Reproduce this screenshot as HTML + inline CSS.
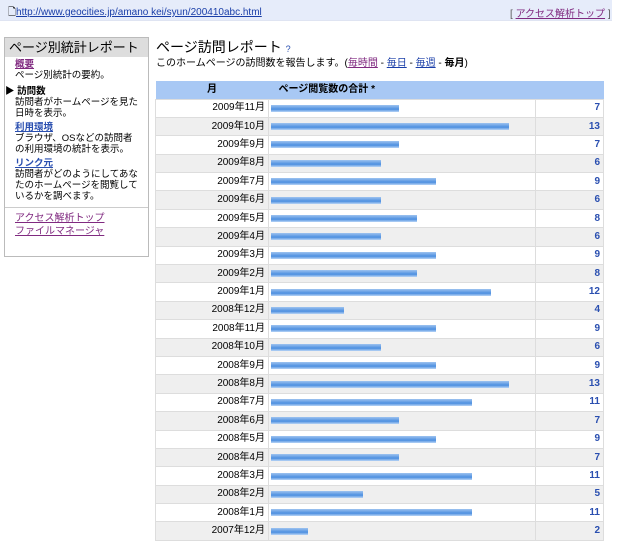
<!DOCTYPE html>
<html><head><meta charset="utf-8">
<style>
body{margin:0;width:626px;height:553px;background:#fff;font-family:"Liberation Sans","Noto Sans CJK JP",sans-serif;font-size:10px;color:#000;position:relative;overflow:hidden}
a{color:#1a3ea8}
.abs{position:absolute}
#topbar{left:0;top:0;width:612px;height:20px;background:#e6ecfa;border-bottom:1px solid #dfe4f2}
#side{left:4px;top:37px;width:143px;height:218px;border:1px solid #bbb;background:#fff}
#side .t{background:#ddd;font-size:13px;padding:1px 4px;height:17px;line-height:17px}
#side .it{padding:0 8px 0 10px;line-height:11px;font-size:9.5px}
#side a.h{font-weight:bold;color:#2a4fb0}
table{border-collapse:collapse;position:absolute;left:155px;top:81px;width:449px}
td,th{padding:0;font-size:10px;line-height:12px;height:18.4px;box-sizing:border-box;border:1px solid #ddd;vertical-align:middle}
th{background:#a8c8f4;height:18px;border:none;text-align:left}
tr.alt td{background:#efefef}
td.m{text-align:right;padding-right:3px;width:113px}
td.v{text-align:right;padding-right:3px;color:#2a4fb0;font-weight:bold;width:68px}
.bar{height:7px;background:linear-gradient(#9dc3f0,#4d8fe0 60%,#b8d4f6);margin-left:2px}
</style></head><body>
<div id="topbar" class="abs">
<span class="abs" style="left:8px;top:5px;font-size:10px">🗋<a href="#">http://www.geocities.jp/amano kei/syun/200410abc.html</a></span>
<span class="abs" style="left:510px;top:5px;color:#555">[ <a href="#" style="color:#802a80">アクセス解析トップ</a> ]</span>
</div>
<div id="side" class="abs">
<div class="t">ページ別統計レポート</div>
<div class="it" style="margin-top:2px"><a class="h" href="#" style="color:#802a80">概要</a><br>ページ別統計の要約。</div>
<div class="it" style="margin-top:5px;padding-left:0"><b>▶ 訪問数</b><div style="padding-left:10px">訪問者がホームページを見た日時を表示。</div></div>
<div class="it" style="margin-top:3px"><a class="h" href="#">利用環境</a><br>ブラウザ、OSなどの訪問者の利用環境の統計を表示。</div>
<div class="it" style="margin-top:3px"><a class="h" href="#">リンク元</a><br>訪問者がどのようにしてあなたのホームページを閲覧しているかを調べます。</div>
<div style="border-top:1px solid #ccc;margin-top:5px;padding:4px 10px;line-height:13px"><a href="#" style="color:#802a80">アクセス解析トップ</a><br><a href="#" style="color:#802a80">ファイルマネージャ</a></div>
</div>
<div class="abs" style="left:156px;top:37px;font-size:14px">ページ訪問レポート <span style="font-size:9px;color:#2a4fb0">?</span></div>
<div class="abs" style="left:156px;top:54px">このホームページの訪問数を報告します。(<a href="#" style="color:#802a80">毎時間</a> - <a href="#">毎日</a> - <a href="#">毎週</a> - <b>毎月</b>)</div>
<table id="tbl">
<tr><th style="text-align:center">月</th><th style="padding-left:10px">ページ閲覧数の合計 *</th><th></th></tr>
</table>
<script>
const months=["2009年11月","2009年10月","2009年9月","2009年8月","2009年7月","2009年6月","2009年5月","2009年4月","2009年3月","2009年2月","2009年1月","2008年12月","2008年11月","2008年10月","2008年9月","2008年8月","2008年7月","2008年6月","2008年5月","2008年4月","2008年3月","2008年2月","2008年1月","2007年12月"];
const views=[7,13,7,6,9,6,8,6,9,8,12,4,9,6,9,13,11,7,9,7,11,5,11,2];
const pxPerUnit=18.3;
const tbl=document.getElementById('tbl');
months.forEach((m,i)=>{
const tr=document.createElement('tr');


if(i%2)tr.className='alt';
const c1=document.createElement('td');c1.className='m';c1.textContent=m;


const c2=document.createElement('td');
const b=document.createElement('div');b.className='bar';b.style.width=(views[i]*pxPerUnit)+'px';


c2.appendChild(b);
const c3=document.createElement('td');c3.className='v';c3.textContent=views[i];


tr.append(c1,c2,c3);tbl.appendChild(tr);
});
</script>
</body></html>
